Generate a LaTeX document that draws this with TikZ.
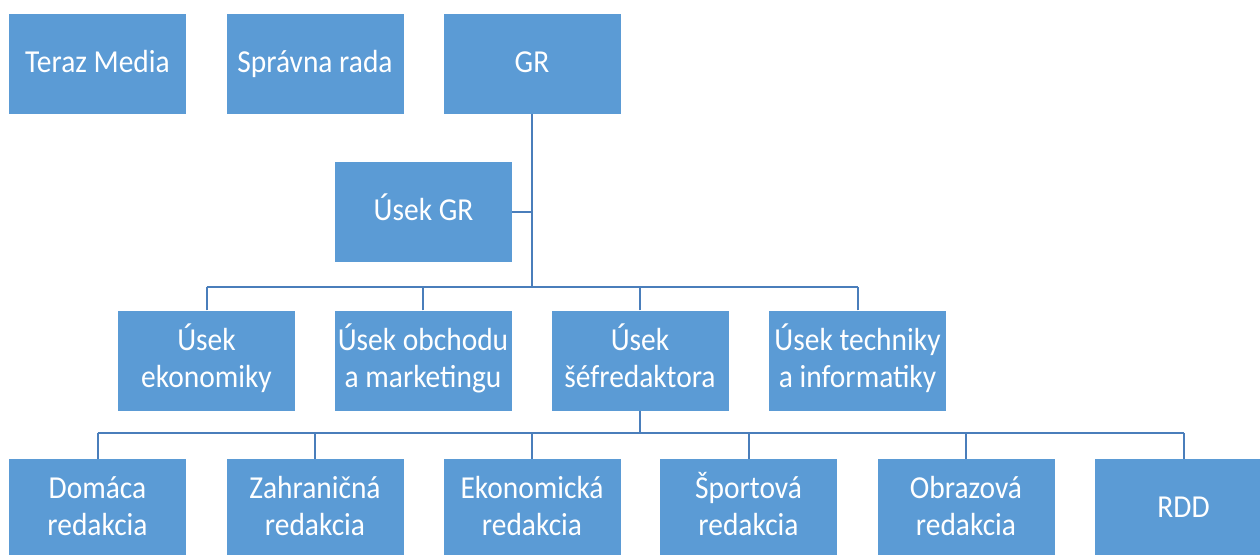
\documentclass[tikz,border=0pt]{standalone}
\usepackage{fontspec}
\setmainfont{Carlito}[FakeStretch=0.92]
\definecolor{boxblue}{HTML}{5B9BD5}
\definecolor{lineblue}{HTML}{4A7EBB}
\newcommand{\topstrut}{\rule{0pt}{28pt}}
\newcommand{\botstrut}{\rule[-12pt]{0pt}{12pt}}
\tikzset{
  unit/.style={rectangle, fill=boxblue, draw=none, text=white, minimum width=177pt, minimum height=100pt, inner sep=0pt, align=center, font=\fontsize{32}{37}\selectfont},
  link/.style={draw=lineblue, line width=2pt}
}
\begin{document}
\begin{tikzpicture}[x=1pt,y=-1pt]
\useasboundingbox (0,0) rectangle (1260,554);
\clip (0,0) rectangle (1260,554);
\fill[white] (0,0) rectangle (1260,554);
% top row
\node[unit] (teraz) at (97.5,64) {\topstrut Teraz Media\botstrut};
\node[unit] (rada) at (315,64) {\topstrut Správna rada\botstrut};
\node[unit] (gr) at (532,64) {\topstrut GR\botstrut};
\node[unit] (usekgr) at (423.5,212) {\topstrut Úsek GR\botstrut};
% second row
\node[unit] (ekon) at (206.5,360.5) {\topstrut Úsek\\ekonomiky\botstrut};
\node[unit] (obch) at (423,360.5) {\topstrut Úsek obchodu\\a marketingu\botstrut};
\node[unit] (sef) at (640,360.5) {\topstrut Úsek\\šéfredaktora\botstrut};
\node[unit] (tech) at (857.5,360.5) {\topstrut Úsek techniky\\a informatiky\botstrut};
% third row
\node[unit] (dom) at (97.5,509) {\topstrut Domáca\\redakcia\botstrut};
\node[unit] (zahr) at (315,509) {\topstrut Zahraničná\\redakcia\botstrut};
\node[unit] (ekred) at (532,509) {\topstrut Ekonomická\\redakcia\botstrut};
\node[unit] (sport) at (748.5,509) {\topstrut Športová\\redakcia\botstrut};
\node[unit] (obraz) at (966,509) {\topstrut Obrazová\\redakcia\botstrut};
\node[unit] (rdd) at (1183.5,509) {\topstrut RDD\botstrut};
% connector levels
\coordinate (bus1) at (532,287);
\coordinate (bus2) at (640,433);
% GR trunk
\draw[link] (gr.south) -- (gr.south |- bus1);
\draw[link] (usekgr.east) -- (usekgr.east -| gr.south);
\draw[link] (ekon.north |- bus1) -- (tech.north |- bus1);
\foreach \n in {ekon,obch,sef,tech}
  \draw[link] (\n.north) -- (\n.north |- bus1);
% chief editor branch
\draw[link] (sef.south) -- (sef.south |- bus2);
\draw[link] (dom.north |- bus2) -- (rdd.north |- bus2);
\foreach \n in {dom,zahr,ekred,sport,obraz,rdd}
  \draw[link] (\n.north) -- (\n.north |- bus2);
\end{tikzpicture}
\end{document}
